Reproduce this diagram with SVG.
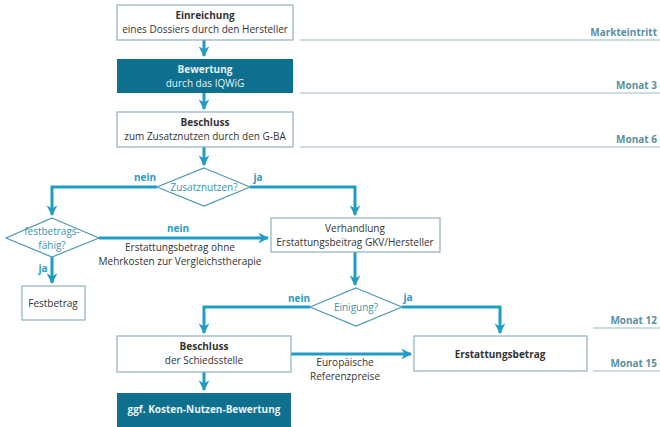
<svg xmlns="http://www.w3.org/2000/svg" width="660" height="427" viewBox="0 0 660 427">
<style>
text{font-family:"Open Sans","Liberation Sans",sans-serif;font-size:10px;text-anchor:middle;fill:#333}
.b{font-weight:bold}
.box{fill:#fff;stroke:#8fb0bc;stroke-width:1.2}
.dark{fill:#0f6f8e;stroke:none}
.wt{fill:#e6f4f8}
.dia{fill:#fff;stroke:#4f9ab0;stroke-width:1.2}
.dt{fill:#3a93ad}
.lab{fill:#2a9cc4;font-weight:bold}
.mon{fill:#5b8fa0;font-weight:bold;text-anchor:end}
.tl{stroke:#bcd0d8;stroke-width:1.5}
.con{fill:none;stroke:#1f9bc6;stroke-width:3}
</style>
<defs>
<marker id="ah" viewBox="0 0 10 10" refX="9" refY="5" markerWidth="3.6" markerHeight="3.6" orient="auto" markerUnits="strokeWidth">
<path d="M0,0 L10,5 L0,10 L3,5 Z" fill="#1f9bc6"/>
</marker>
</defs>
<g id="timeline">
<line class="tl" x1="300" y1="40" x2="660" y2="40"/>
<line class="tl" x1="300" y1="93" x2="660" y2="93"/>
<line class="tl" x1="300" y1="147" x2="660" y2="147"/>
<line class="tl" x1="593" y1="328" x2="660" y2="328"/>
<line class="tl" x1="593" y1="371" x2="660" y2="371"/>
<text class="mon" x="657" y="36">Markteintritt</text>
<text class="mon" x="657" y="89">Monat 3</text>
<text class="mon" x="657" y="143">Monat 6</text>
<text class="mon" x="657" y="324">Monat 12</text>
<text class="mon" x="657" y="367">Monat 15</text>
</g>
<g id="connectors">
<path class="con" d="M204,40 V56" marker-end="url(#ah)"/>
<path class="con" d="M204,93 V109" marker-end="url(#ah)"/>
<path class="con" d="M204,147 V165" marker-end="url(#ah)"/>
<path class="con" d="M157,187 H52 V215" marker-end="url(#ah)"/>
<path class="con" d="M250,187 H355 V215" marker-end="url(#ah)"/>
<path class="con" d="M99,238 H268" marker-end="url(#ah)"/>
<path class="con" d="M52,257 V283" marker-end="url(#ah)"/>
<path class="con" d="M355,252 V285" marker-end="url(#ah)"/>
<path class="con" d="M310,307 H204 V333" marker-end="url(#ah)"/>
<path class="con" d="M402,307 H500 V333" marker-end="url(#ah)"/>
<path class="con" d="M291,354 H411" marker-end="url(#ah)"/>
<path class="con" d="M204,372 V390" marker-end="url(#ah)"/>
<text class="lab" x="145" y="181">nein</text>
<text class="lab" x="258" y="181">ja</text>
<text class="lab" x="178" y="232">nein</text>
<text x="180" y="251">Erstattungsbetrag ohne</text>
<text x="180" y="264.5">Mehrkosten zur Vergleichstherapie</text>
<text class="lab" x="43" y="272">ja</text>
<text class="lab" x="299" y="302">nein</text>
<text class="lab" x="408" y="301">ja</text>
<text x="345" y="366">Europäische</text>
<text x="345" y="379.5">Referenzpreise</text>
</g>
<g id="einreichung">
<rect class="box" x="117" y="5" width="176" height="35"/>
<text class="b" x="205" y="19">Einreichung</text>
<text x="205" y="32.5">eines Dossiers durch den Hersteller</text>
</g>
<g id="bewertung">
<rect class="dark" x="117" y="59" width="176" height="34"/>
<text class="b wt" x="205" y="73">Bewertung</text>
<text class="wt" x="205" y="86.5">durch das IQWiG</text>
</g>
<g id="beschluss">
<rect class="box" x="117" y="112" width="176" height="35"/>
<text class="b" x="205" y="126">Beschluss</text>
<text x="205" y="139.5">zum Zusatznutzen durch den G-BA</text>
</g>
<g id="zusatznutzen">
<polygon class="dia" points="204,168 250,187 204,206 157,187"/>
<text class="dt" x="204" y="191">Zusatznutzen?</text>
</g>
<g id="festbetragsfaehig">
<polygon class="dia" points="52,218 99,238 52,257 6,238"/>
<text class="dt" x="52" y="235">festbetrags-</text>
<text class="dt" x="52" y="248.5">fähig?</text>
</g>
<g id="festbetrag">
<rect class="box" x="22" y="286" width="63" height="34"/>
<text x="53" y="307">Festbetrag</text>
</g>
<g id="verhandlung">
<rect class="box" x="271" y="218" width="169" height="34"/>
<text x="355" y="232">Verhandlung</text>
<text x="355" y="245.5">Erstattungsbeitrag GKV/Hersteller</text>
</g>
<g id="einigung">
<polygon class="dia" points="356,288 402,307 356,326 310,307"/>
<text class="dt" x="356" y="311">Einigung?</text>
</g>
<g id="schiedsstelle">
<rect class="box" x="117" y="336" width="174" height="36"/>
<text class="b" x="204" y="350">Beschluss</text>
<text x="204" y="363.5">der Schiedsstelle</text>
</g>
<g id="erstattungsbetrag">
<rect class="box" x="414" y="336" width="173" height="35"/>
<text class="b" x="500" y="358">Erstattungsbetrag</text>
</g>
<g id="kosten-nutzen">
<rect class="dark" x="117" y="393" width="174" height="34"/>
<text class="b wt" x="204" y="413">ggf. Kosten-Nutzen-Bewertung</text>
</g>
</svg>
